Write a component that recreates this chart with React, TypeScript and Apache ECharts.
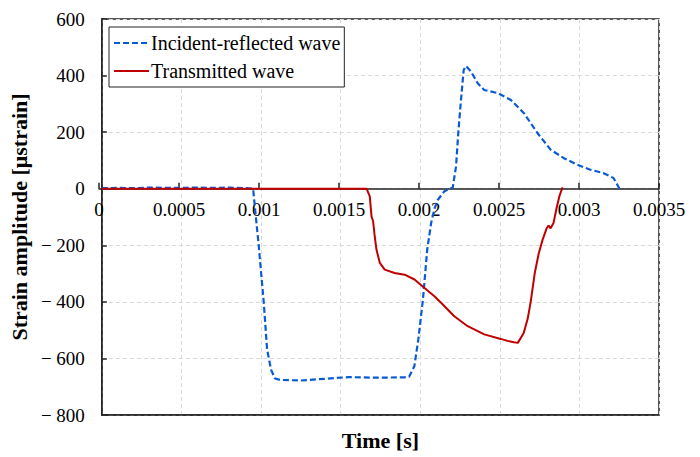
import React, { useEffect, useRef } from "react";
import * as echarts from "echarts";

const incidentTime = [0, 0.0001, 0.0002, 0.0003, 0.0004, 0.0005, 0.0006, 0.0007, 0.0008, 0.0009, 0.00095, 0.000986, 0.001017, 0.001038, 0.001063, 0.001088, 0.00112, 0.00125, 0.0014, 0.00155, 0.0017, 0.0019, 0.00193, 0.001963, 0.001988, 0.002017, 0.002044, 0.002069, 0.00209, 0.002111, 0.00215, 0.002175, 0.002204, 0.002225, 0.002239, 0.002256, 0.002273, 0.002288, 0.002319, 0.002361, 0.002402, 0.002486, 0.002569, 0.002652, 0.002736, 0.002819, 0.002902, 0.002986, 0.003069, 0.003152, 0.003214, 0.003252];
const incidentStrain = [2, 3, 2, 4, 3, 3, 4, 3, 4, 2, 0, -205, -402, -568, -640, -671, -676, -678, -672, -666, -668, -667, -665, -628, -533, -392, -215, -120, -70, -39, -10, -2, 4, 79, 197, 314, 420, 434, 414, 373, 349, 338, 314, 267, 197, 138, 108, 85, 67, 55, 38, 0];

const transmittedTime = [0, 0.0005, 0.001, 0.0015, 0.001663, 0.001683, 0.001694, 0.001704, 0.001714, 0.001725, 0.001746, 0.001777, 0.001839, 0.001902, 0.001964, 0.002027, 0.002089, 0.002131, 0.002214, 0.002298, 0.002402, 0.002506, 0.002548, 0.002589, 0.002613, 0.00265, 0.002675, 0.002694, 0.002719, 0.002744, 0.002769, 0.002794, 0.002806, 0.002819, 0.002838, 0.002856, 0.002875, 0.002894];
const transmittedStrain = [0, 0, 0, 0, 0, -27, -98, -115, -168, -215, -262, -286, -298, -304, -321, -351, -380, -403, -451, -486, -515, -531, -538, -543, -545, -510, -460, -400, -300, -230, -180, -140, -130, -140, -120, -70, -25, 5];

const seriesNames = ["Incident-reflected wave", "Transmitted wave"];
const xAxisTitle = "Time [s]";
const yAxisTitle = "Strain amplitude [μstrain]";

const FONT = "'Liberation Serif', 'Times New Roman', serif";

const X_MIN = 0;
const X_MAX = 0.0035;
const X_STEP = 0.0005;
const Y_MIN = -800;
const Y_MAX = 600;
const Y_STEP = 200;

export default function App() {
  const ref = useRef<HTMLDivElement>(null);
  useEffect(() => {
    if (!ref.current) return;
    const chart = echarts.init(ref.current, null, { renderer: "svg" });
    const zip = (xs: number[], ys: number[]) => xs.map((x, i) => [x, ys[i]]);
    const H = 457;
    const top = 19;
    const bottom = 42;
    const plotH = H - top - bottom;
    const zeroY = top + (Y_MAX / (Y_MAX - Y_MIN)) * plotH;
    chart.setOption({
      animation: false,
      backgroundColor: "#fff",
      textStyle: { fontFamily: FONT },
      grid: [
        {
          left: 99,
          right: 41,
          top,
          bottom,
          show: true,
          borderColor: "#222",
          borderWidth: 1.5,
          backgroundColor: "transparent",
        },
        {
          left: 99,
          right: 41,
          top,
          bottom: H - zeroY,
          show: false,
        },
      ],
      legend: {
        orient: "vertical",
        left: 109,
        top: 27,
        backgroundColor: "#fff",
        borderColor: "#222",
        borderWidth: 1,
        borderRadius: 0,
        padding: [6, 4, 6, 4],
        itemGap: 8,
        itemWidth: 35,
        itemHeight: 20,
        itemStyle: { opacity: 0, borderWidth: 0 },
        textStyle: { fontFamily: FONT, fontSize: 20, color: "#000", padding: [0, 0, 0, -3] },
        data: seriesNames,
      },
      xAxis: [
        {
          type: "value",
          gridIndex: 0,
          min: X_MIN,
          max: X_MAX,
          interval: X_STEP,
          position: "bottom",
          axisLine: { show: true, onZero: false, lineStyle: { color: "#222", width: 1.5 } },
          axisTick: { show: false },
          axisLabel: { show: false },
          splitLine: { show: true, lineStyle: { color: "#d9d9d9", type: [4, 3], width: 1 } },
          name: xAxisTitle,
          nameLocation: "middle",
          nameGap: 14,
          nameTextStyle: { fontFamily: FONT, fontSize: 22, fontWeight: "bold", color: "#000" },
        },
        {
          type: "value",
          gridIndex: 1,
          min: X_MIN,
          max: X_MAX,
          interval: X_STEP,
          position: "bottom",
          axisLine: { show: true, onZero: false, lineStyle: { color: "#222", width: 1.5 } },
          axisTick: { show: true, inside: true, length: 6, lineStyle: { color: "#222", width: 1.5 } },
          axisLabel: {
            fontFamily: FONT,
            fontSize: 19,
            color: "#000",
            margin: 11,
            formatter: (v: number) => String(parseFloat(v.toFixed(4))),
          },
          splitLine: { show: false },
        },
      ],
      yAxis: [
        {
          type: "value",
          gridIndex: 0,
          min: Y_MIN,
          max: Y_MAX,
          interval: Y_STEP,
          axisLine: { show: true, onZero: false, lineStyle: { color: "#222", width: 1.5 } },
          axisTick: { show: true, inside: true, length: 5, lineStyle: { color: "#222", width: 1.5 } },
          axisLabel: {
            fontFamily: FONT,
            fontSize: 19,
            color: "#000",
            margin: 17,
            formatter: (v: number) => (v < 0 ? "\u2212 " + Math.abs(v) : String(v)),
          },
          splitLine: { show: true, lineStyle: { color: "#d9d9d9", type: [4, 3], width: 1 } },
          name: yAxisTitle,
          nameLocation: "middle",
          nameRotate: 90,
          nameGap: 66,
          nameTextStyle: { fontFamily: FONT, fontSize: 22, fontWeight: "bold", color: "#000" },
        },
        {
          type: "value",
          gridIndex: 1,
          min: 0,
          max: Y_MAX,
          show: false,
        },
      ],
      series: [
        {
          name: seriesNames[0],
          type: "line",
          xAxisIndex: 0,
          yAxisIndex: 0,
          data: zip(incidentTime, incidentStrain),
          symbol: "none",
          z: 3,
          lineStyle: { color: "#0a5bd3", width: 2.2, type: [6, 3] },
          itemStyle: { color: "#0a5bd3" },
        },
        {
          name: seriesNames[1],
          type: "line",
          xAxisIndex: 0,
          yAxisIndex: 0,
          data: zip(transmittedTime, transmittedStrain),
          symbol: "none",
          z: 4,
          lineStyle: { color: "#c00000", width: 2 },
          itemStyle: { color: "#c00000" },
        },
      ],
    });
    return () => chart.dispose();
  }, []);
  return (
    <div
      ref={ref}
      style={{ position: "fixed", left: 0, top: 0, width: 700, height: 457 }}
    />
  );
}
